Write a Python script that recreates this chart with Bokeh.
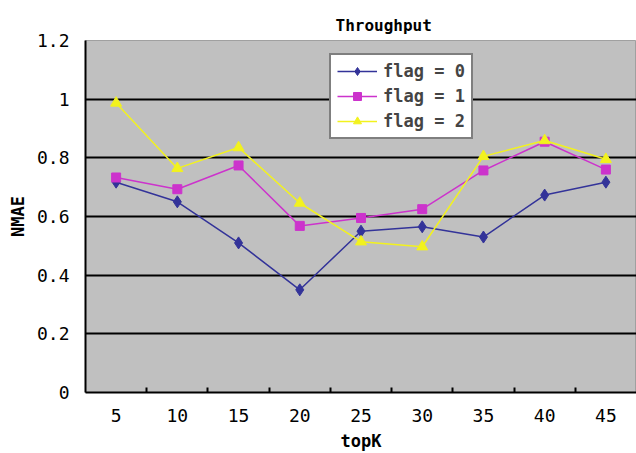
from bokeh.plotting import figure
from bokeh.models import FixedTicker, Legend, LegendItem, Range1d
from bokeh.embed import file_html
from bokeh.resources import INLINE

topk = [5, 10, 15, 20, 25, 30, 35, 40, 45]
flag0 = [0.717, 0.65, 0.51, 0.35, 0.55, 0.565, 0.53, 0.673, 0.717]
flag1 = [0.733, 0.693, 0.774, 0.568, 0.595, 0.625, 0.757, 0.855, 0.76]
flag2 = [0.987, 0.764, 0.835, 0.646, 0.514, 0.497, 0.805, 0.859, 0.795]
yticks = [0, 0.2, 0.4, 0.6, 0.8, 1.0, 1.2]
ytick_labels = ["0", "0.2", "0.4", "0.6", "0.8", "1", "1.2"]

FONT = "DejaVu Sans Mono"

p = figure(width=636, height=453, output_backend="svg", toolbar_location=None,
           x_range=Range1d(2.5, 47.5), y_range=Range1d(0, 1.2),
           min_border_left=85, min_border_right=0, min_border_top=40, min_border_bottom=58,
           title="Throughput")
p.title.align = "left"
p.title.offset = 250
p.title.standoff = 11
p.title.text_font = FONT
p.title.text_font_size = "16px"
p.title.text_font_style = "bold"
p.title.text_color = "black"

p.background_fill_color = "#C0C0C0"
p.border_fill_color = "white"
p.outline_line_color = "#A0A0A0"
p.outline_line_width = 1

# axes
p.xaxis.ticker = FixedTicker(ticks=topk, minor_ticks=[7.5 + 5 * i for i in range(8)])
p.xaxis.major_tick_line_color = None
p.xaxis.minor_tick_in = 5
p.xaxis.minor_tick_out = 0
p.xaxis.minor_tick_line_color = "black"
p.xaxis.minor_tick_line_width = 2
p.xaxis.axis_line_color = "black"
p.xaxis.axis_line_width = 2
p.xaxis.axis_label = "topK"
p.xaxis.major_label_standoff = 10

p.yaxis.ticker = FixedTicker(ticks=yticks)
p.yaxis.major_label_overrides = {t: l for t, l in zip(yticks, ytick_labels)}
p.yaxis.major_tick_line_color = None
p.yaxis.minor_tick_line_color = None
p.yaxis.axis_line_color = "black"
p.yaxis.axis_line_width = 2
p.yaxis.axis_label = "NMAE"
p.yaxis.major_label_standoff = 10

for ax in (p.xaxis[0], p.yaxis[0]):
    ax.major_label_text_font = FONT
    ax.major_label_text_font_size = "18px"
    ax.major_label_text_color = "black"
    ax.axis_label_text_font = FONT
    ax.axis_label_text_font_size = "17px"
    ax.axis_label_text_font_style = "bold"
    ax.axis_label_text_color = "black"
    ax.axis_label_standoff = 6

p.xgrid.grid_line_color = None
p.ygrid.ticker = FixedTicker(ticks=yticks)
p.ygrid.grid_line_color = "black"
p.ygrid.grid_line_width = 2

c0, c1, c2 = "#333399", "#CC33CC", "#F2F21E"
l0 = p.line(topk, flag0, line_color=c0, line_width=1.5)
m0 = p.scatter(topk, flag0, marker="diamond", size=12, fill_color=c0, line_color=c0)
l1 = p.line(topk, flag1, line_color=c1, line_width=1.5)
m1 = p.scatter(topk, flag1, marker="square", size=9, fill_color=c1, line_color=c1)
l2 = p.line(topk, flag2, line_color=c2, line_width=1.5)
m2 = p.scatter(topk, flag2, marker="triangle", size=11, fill_color=c2, line_color=c2)

legend = Legend(items=[
    LegendItem(label="flag = 0", renderers=[l0, m0]),
    LegendItem(label="flag = 1", renderers=[l1, m1]),
    LegendItem(label="flag = 2", renderers=[l2, m2]),
], location=(244, 253))
legend.label_text_font = FONT
legend.label_text_font_size = "17px"
legend.label_text_font_style = "bold"
legend.border_line_color = "black"
legend.border_line_width = 2
legend.background_fill_color = "white"
legend.background_fill_alpha = 1
legend.spacing = 5
legend.padding = 6
legend.margin = 0
legend.glyph_width = 40
legend.label_standoff = 6
p.add_layout(legend, "center")

open("out.html", "w").write(file_html(p, INLINE))
